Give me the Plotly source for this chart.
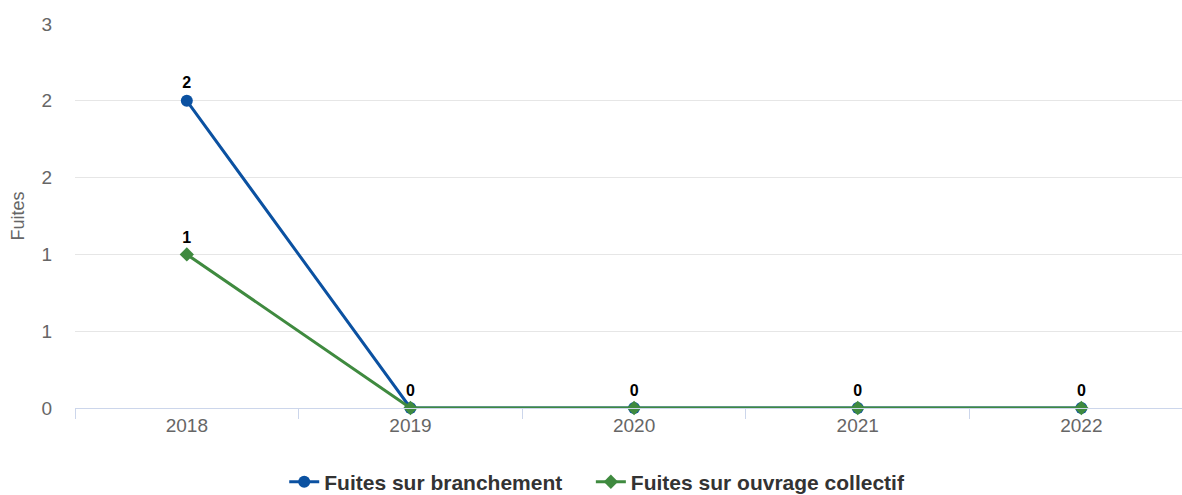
import plotly.graph_objects as go

years = ["2018", "2019", "2020", "2021", "2022"]
branchement = [2, 0, 0, 0, 0]
ouvrage = [1, 0, 0, 0, 0]

y_ticks = [0, 0.5, 1, 1.5, 2, 2.5]
y_labels = ["0", "1", "1", "2", "2", "3"]

blue = "#0b51a1"
green = "#3f8a3f"

x = list(range(len(years)))

# hide labels that would sit exactly on top of the other series' labels
ouvrage_text = [str(v) if v != b else "" for v, b in zip(ouvrage, branchement)]

label_font = dict(family="Liberation Sans, Arial", size=16, color="#000000", weight="bold")
legend_font = dict(size=21, color="#333333", weight="bold")

fig = go.Figure()

fig.add_trace(
    go.Scatter(
        x=x,
        y=branchement,
        mode="lines+markers+text",
        name="Fuites sur branchement",
        line=dict(color=blue, width=3),
        marker=dict(symbol="circle", size=12, color=blue),
        text=[str(v) for v in branchement],
        textposition="top center",
        textfont=label_font,
        cliponaxis=False,
        legend="legend",
    )
)

fig.add_trace(
    go.Scatter(
        x=x,
        y=ouvrage,
        mode="lines+markers+text",
        name="Fuites sur ouvrage collectif",
        line=dict(color=green, width=3),
        marker=dict(symbol="diamond", size=11, color=green),
        text=ouvrage_text,
        textposition="top center",
        textfont=label_font,
        cliponaxis=False,
        legend="legend2",
    )
)

fig.update_layout(
    width=1182,
    height=495,
    paper_bgcolor="#ffffff",
    plot_bgcolor="#ffffff",
    font=dict(family="Liberation Sans, Arial", color="#666666", size=19),
    margin=dict(l=75, r=0, t=24, b=87, autoexpand=False),
    showlegend=True,
    legend=dict(
        orientation="h",
        x=0.189,
        xanchor="left",
        y=-0.193,
        yanchor="middle",
        font=legend_font,
        itemwidth=30,
    ),
    legend2=dict(
        orientation="h",
        x=0.466,
        xanchor="left",
        y=-0.193,
        yanchor="middle",
        font=legend_font,
        itemwidth=30,
    ),
    xaxis=dict(
        range=[-0.5, 4.45],
        tickmode="array",
        tickvals=x,
        ticktext=years,
        ticks="",
        showgrid=False,
        zeroline=False,
        showline=True,
        linecolor="#ccd6eb",
        linewidth=1,
        minor=dict(
            tickmode="array",
            tickvals=[-0.5, 0.5, 1.5, 2.5, 3.5],
            ticks="outside",
            ticklen=10,
            tickcolor="#ccd6eb",
            showgrid=False,
        ),
        tickfont=dict(size=19, color="#666666"),
        fixedrange=True,
    ),
    yaxis=dict(
        range=[0, 2.5],
        tickmode="array",
        tickvals=y_ticks,
        ticktext=y_labels,
        showgrid=True,
        gridcolor="#e6e6e6",
        zeroline=False,
        showline=False,
        ticks="",
        ticklabelstandoff=22,
        title=dict(text="Fuites", font=dict(size=18, color="#666666"), standoff=12),
        tickfont=dict(size=19, color="#666666"),
        fixedrange=True,
    ),
)

fig.write_html(
    "out.html",
    config={"displayModeBar": False},
    post_script="document.body.style.margin='0';document.body.style.overflow='hidden';",
)
